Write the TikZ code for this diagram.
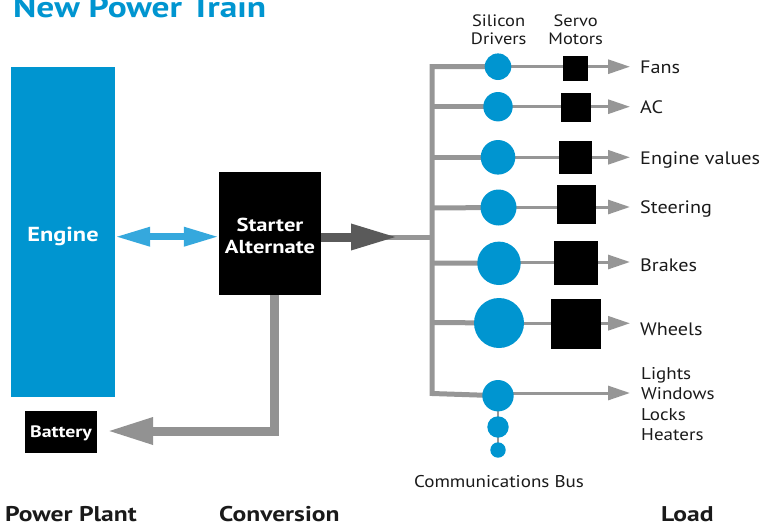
\documentclass[tikz,border=0pt]{standalone}
\usepackage{fontspec}
\setmainfont{PT Sans}[FakeStretch=1.12]
\newfontfamily\bdf{PT Sans Bold}[FakeStretch=1.2]
\usetikzlibrary{arrows.meta,backgrounds}
\definecolor{eblue}{HTML}{0095D0}
\definecolor{ablue}{HTML}{35A8DD}
\definecolor{darkarrow}{HTML}{5A5A5A}
\definecolor{busgray}{HTML}{969696}
\definecolor{txt}{HTML}{1A1A1A}
\tikzset{
  lbl/.style={inner sep=0pt, anchor=base west, text=txt, font=\fontsize{18}{20}\selectfont},
  hdr/.style={inner sep=0pt, anchor=base, text=txt, font=\fontsize{16.5}{18}\selectfont},
  sect/.style={inner sep=0pt, anchor=base west, text=txt, font=\bdf\fontsize{21.3}{24}\selectfont},
  drv/.style={circle, fill=eblue, inner sep=0pt},
  servo/.style={rectangle, fill=black, inner sep=0pt},
  bus/.style={draw=busgray, line width=5pt},
  thin/.style={draw=busgray, line width=3pt, -{Triangle[length=22pt,width=14pt]}},
  whitebox/.style={inner sep=0pt, text=white}
}
\begin{document}
\begin{tikzpicture}[x=1pt,y=-1pt]
\useasboundingbox (0,0) rectangle (780,525);

% title
\node[inner sep=0pt, anchor=base west, text=eblue, font=\bdf\fontsize{29.5}{32}\selectfont] (title) at (13,17.3) {New Power Train};

% power plant
\node[fill=eblue, minimum width=104pt, minimum height=330pt, whitebox, font=\bdf\fontsize{20.3}{24}\selectfont] (engine) at (63,232) {\raisebox{-4pt}[\height][\depth]{Engine}};
\node[fill=black, minimum width=72pt, minimum height=41.7pt, whitebox, font=\bdf\fontsize{16.5}{18}\selectfont] (battery) at (61,431.8) {\raisebox{-1.5pt}[\height][\depth]{Battery}};

% conversion
\node[fill=black, minimum width=102pt, minimum height=123pt, whitebox, font=\bdf\fontsize{18.8}{22.6}\selectfont] (starter) at (270,233.5) {\raisebox{-4.5pt}[\height][\depth]{\begin{tabular}{@{}c@{}}Starter\\[-1pt]Alternate\end{tabular}}};

% blue double arrow
\draw[ablue, line width=6.5pt, {Triangle[length=35pt,width=18pt]}-{Triangle[length=35pt,width=18pt]}] (engine.east |- 0,236.7) -- (starter.west |- 0,236.7);

% bus coordinates
\coordinate (feed) at (432,237);
\coordinate (dtip) at (398,237);
\coordinate (b1) at (432,66.7);
\coordinate (b2) at (432,106.7);
\coordinate (b3) at (432,157.3);
\coordinate (b4) at (432,208);
\coordinate (b5) at (432,263);
\coordinate (b6) at (432,322.5);
\coordinate (b7) at (432,393.5);

% drivers
\node[drv, minimum size=26.6pt] (c1) at (498,66.7) {};
\node[drv, minimum size=29.4pt] (c2) at (498,106.7) {};
\node[drv, minimum size=34.6pt] (c3) at (498,157.3) {};
\node[drv, minimum size=36pt] (c4) at (498.5,207.5) {};
\node[drv, minimum size=43.4pt] (c5) at (499,263.3) {};
\node[drv, minimum size=50pt] (c6) at (499,323) {};
\node[drv, minimum size=31.4pt] (c7) at (498,395.7) {};
\node[drv, minimum size=21.4pt] (c8) at (498,427) {};
\node[drv, minimum size=15.4pt] (c9) at (498,450) {};

% servo motors
\node[servo, minimum width=25pt, minimum height=25pt] (s1) at (575,68.3) {};
\node[servo, minimum width=30pt, minimum height=29pt] (s2) at (576,107) {};
\node[servo, minimum width=33pt, minimum height=33pt] (s3) at (575.5,157.3) {};
\node[servo, minimum width=39pt, minimum height=39pt] (s4) at (576.3,204.3) {};
\node[servo, minimum width=44pt, minimum height=44pt] (s5) at (576,263) {};
\node[servo, minimum width=50pt, minimum height=50pt] (s6) at (576,324) {};

% arrow ends
\coordinate (t1) at (630,66.7);
\coordinate (t2) at (630,106.7);
\coordinate (t3) at (630,157.3);
\coordinate (t4) at (630,207);
\coordinate (t5) at (630,262);
\coordinate (t6) at (630,323.3);
\coordinate (t7) at (630,393);

% labels
\node[lbl] (l1) at (640,73.3) {Fans};
\node[lbl] (l2) at (640,113) {AC};
\node[lbl] (l3) at (640,164.5) {Engine values};
\node[lbl] (l4) at (640,213.3) {Steering};
\node[lbl] (l5) at (640,271) {Brakes};
\node[lbl] (l6) at (640,335) {Wheels};
\node[lbl, font=\fontsize{17}{20}\selectfont] (l7a) at (641,379.3) {Lights};
\node[lbl, font=\fontsize{17}{20}\selectfont] (l7b) at (641,399.5) {Windows};
\node[lbl, font=\fontsize{17}{20}\selectfont] (l7c) at (641,420) {Locks};
\node[lbl, font=\fontsize{17}{20}\selectfont] (l7d) at (641,440.3) {Heaters};

\node[hdr] (h1a) at (498.7,26.7) {Silicon};
\node[hdr] (h1b) at (498.7,44) {Drivers};
\node[hdr] (h2a) at (575.7,26.7) {Servo};
\node[hdr] (h2b) at (575.7,44) {Motors};
\node[hdr, font=\fontsize{17}{20}\selectfont] (comm) at (499,487.7) {Communications Bus};

\node[sect] (pp) at (5,521) {Power Plant};
\node[sect] (conv) at (219,521) {Conversion};
\node[sect] (load) at (661,521) {Load};

\begin{scope}[on background layer]
  % feed into bus
  \draw[bus] (385,237) -- (feed);
  \draw[darkarrow, line width=9pt, -{Triangle[length=47pt,width=24pt]}] (starter.east |- dtip) -- (dtip);
  % bus and branches
  \draw[bus, line join=miter] (c1.center) -- (b1) -- (b7) -- (c7.center);
  \draw[bus] (b2) -- (c2.center);
  \draw[bus] (b3) -- (c3.center);
  \draw[bus] (b4) -- (c4.center);
  \draw[bus] (b5) -- (c5.center);
  \draw[bus] (b6) -- (c6.center);
  % thin outputs
  \draw[thin] (c1.center) -- (t1);
  \draw[thin] (c2.center) -- (t2);
  \draw[thin] (c3.center |- t3) -- (t3);
  \draw[thin] (c4.center |- t4) -- (t4);
  \draw[thin] (c5.center |- t5) -- (t5);
  \draw[thin] (c6.center |- t6) -- (t6);
  \draw[thin] (c7.center |- t7) -- (t7);
  % communications bus chain
  \draw[busgray, line width=2pt] (c7.center) -- (c9.center);
\end{scope}

% battery return
\coordinate (bcorner) at (274,431);
\coordinate (btip) at (107,431);
\draw[busgray!97!black, line width=9pt, line join=miter, -{Triangle[length=46pt,width=25pt]}] (starter.south -| bcorner) -- (bcorner) -- (btip);
\end{tikzpicture}
\end{document}
